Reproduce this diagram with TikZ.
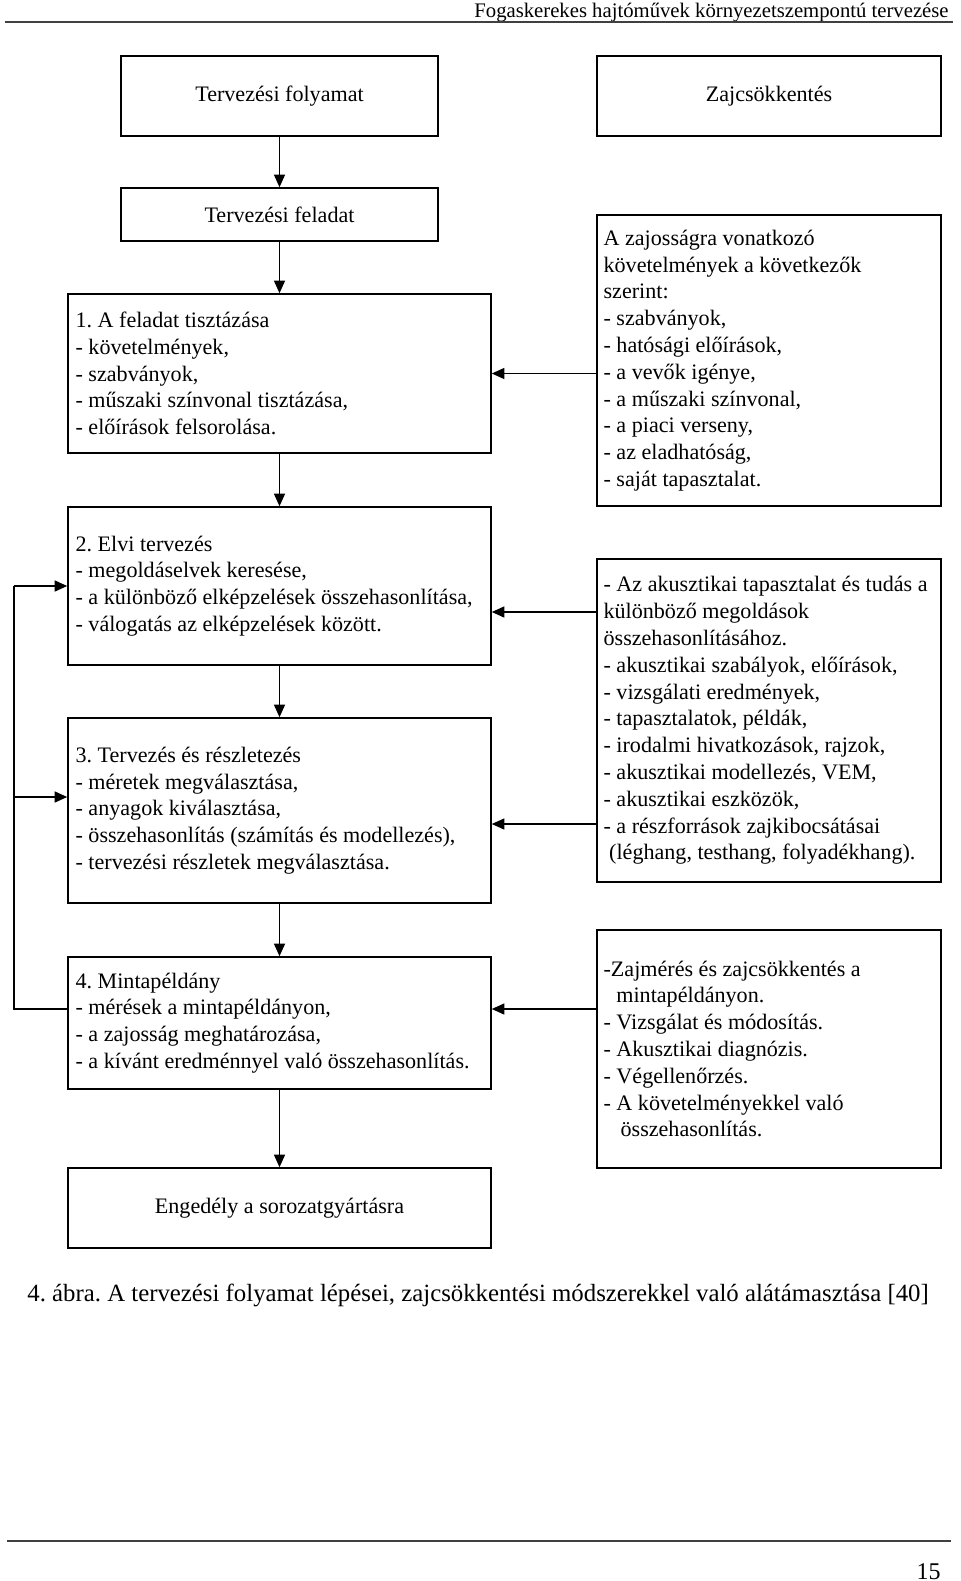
\documentclass[tikz,border=0pt]{standalone}
\usepackage{fontspec}
\setmainfont{Liberation Serif}
\usetikzlibrary{arrows.meta}
\frenchspacing
\begin{document}
\begin{tikzpicture}[x=0.5pt,y=-0.5pt,
  box/.style={draw, line width=0.8pt, inner sep=0pt},
  txt/.style={inner sep=0pt, align=left, font=\fontsize{11.05}{13.4}\selectfont},
  ctxt/.style={font=\fontsize{11.05}{13.4}\selectfont},
  arr/.style={line width=0.65pt, -{Triangle[length=6.25pt,width=5.5pt]}},
  ln/.style={line width=0.65pt},
  rule/.style={line width=1pt, black!75}]
\useasboundingbox (0,0) rectangle (960,1581);

% header and footer
\node[anchor=base east, inner sep=0pt, font=\fontsize{10.35}{12}\selectfont] (hd) at (949,17) {Fogaskerekes hajtóművek környezetszempontú tervezése};
\draw[rule] (5,22) -- (953,22);
\draw[rule] (7,1541) -- (951,1541);
\node[anchor=base east, inner sep=0pt, font=\fontsize{12}{14}\selectfont] (pg) at (941,1579) {15};

% left column
\node[box, ctxt, minimum width=158.5pt, minimum height=40pt] (b0) at (279.5,96) {Tervezési folyamat};
\node[box, ctxt, minimum width=158.5pt, minimum height=26.5pt] (b1) at (279.5,214.5) {Tervezési feladat};
\node[box, minimum width=211.5pt, minimum height=79.5pt] (p1) at (279.5,373.5) {};
\node[box, minimum width=211.5pt, minimum height=79pt] (p2) at (279.5,586) {};
\node[box, minimum width=211.5pt, minimum height=92.5pt] (p3) at (279.5,810.5) {};
\node[box, minimum width=211.5pt, minimum height=66pt] (p4) at (279.5,1023) {};
\node[box, ctxt, minimum width=211.5pt, minimum height=40pt] (p5) at (279.5,1208) {Engedély a sorozatgyártásra};

% right column
\node[box, ctxt, minimum width=172pt, minimum height=40pt] (z0) at (769,96) {Zajcsökkentés};
\node[box, minimum width=172pt, minimum height=145.5pt] (rA) at (769,360.5) {};
\node[box, minimum width=172pt, minimum height=161.5pt] (rB) at (769,720.5) {};
\node[box, minimum width=172pt, minimum height=119pt] (rC) at (769,1049) {};

% texts
\node[txt, anchor=west] (t1) at ([xshift=4pt]p1.west) {1. A feladat tisztázása\\- követelmények,\\- szabványok,\\- műszaki színvonal tisztázása,\\- előírások felsorolása.};
\node[txt, anchor=west] (t2) at ([xshift=4pt]p2.west) {2. Elvi tervezés\\- megoldáselvek keresése,\\- a különböző elképzelések összehasonlítása,\\- válogatás az elképzelések között.};
\node[txt, anchor=west] (t3) at ([xshift=4pt]p3.west) {3. Tervezés és részletezés\\- méretek megválasztása,\\- anyagok kiválasztása,\\- összehasonlítás (számítás és modellezés),\\- tervezési részletek megválasztása.};
\node[txt, anchor=west] (t4) at ([xshift=4pt]p4.west) {4. Mintapéldány\\- mérések a mintapéldányon,\\- a zajosság meghatározása,\\- a kívánt eredménnyel való összehasonlítás.};
\node[txt, anchor=west] (tA) at ([xshift=3.5pt]rA.west) {A zajosságra vonatkozó\\követelmények a következők\\szerint:\\- szabványok,\\- hatósági előírások,\\- a vevők igénye,\\- a műszaki színvonal,\\- a piaci verseny,\\- az eladhatóság,\\- saját tapasztalat.};
\node[txt, anchor=west] (tB) at ([xshift=3.5pt]rB.west) {- Az akusztikai tapasztalat és tudás a\\különböző megoldások\\összehasonlításához.\\- akusztikai szabályok, előírások,\\- vizsgálati eredmények,\\- tapasztalatok, példák,\\- irodalmi hivatkozások, rajzok,\\- akusztikai modellezés, VEM,\\- akusztikai eszközök,\\- a részforrások zajkibocsátásai\\\hspace*{2.8pt}(léghang, testhang, folyadékhang).};
\node[txt, anchor=west] (tC) at ([xshift=3.5pt]rC.west) {-Zajmérés és zajcsökkentés a\\\hspace*{6.4pt}mintapéldányon.\\- Vizsgálat és módosítás.\\- Akusztikai diagnózis.\\- Végellenőrzés.\\- A követelményekkel való\\\hspace*{8.5pt}összehasonlítás.};

% caption
\node[anchor=west, inner sep=0pt, font=\fontsize{12.4}{15}\selectfont] (cap) at (27,1295) {4. ábra. A tervezési folyamat lépései, zajcsökkentési módszerekkel való alátámasztása [40]};

% down arrows
\draw[arr] (b0.south) -- (b1.north);
\draw[arr] (b1.south) -- (p1.north);
\draw[arr] (p1.south) -- (p2.north);
\draw[arr] (p2.south) -- (p3.north);
\draw[arr] (p3.south) -- (p4.north);
\draw[arr] (p4.south) -- (p5.north);

% helper coordinates
\path ([yshift=7pt]p4.west) coordinate (w4)
      ([yshift=7pt]p4.east) coordinate (e4)
      ([yshift=6.75pt]p3.west) coordinate (w3)
      ([yshift=-6.75pt]p3.east) coordinate (e3)
      ([yshift=-13pt]p2.east) coordinate (e2);
\coordinate (lx) at (14,0);

% right-to-left arrows
\draw[arr] (rA.west |- p1.east) -- (p1.east);
\draw[arr] (rB.west |- e2) -- (e2);
\draw[arr] (rB.west |- e3) -- (e3);
\draw[arr] (rC.west |- e4) -- (e4);

% feedback loop
\draw[ln] (w4) -- (w4 -| lx) -- (p2.west -| lx);
\draw[arr] (p2.west -| lx) -- (p2.west);
\draw[arr] (w3 -| lx) -- (w3);
\end{tikzpicture}
\end{document}
